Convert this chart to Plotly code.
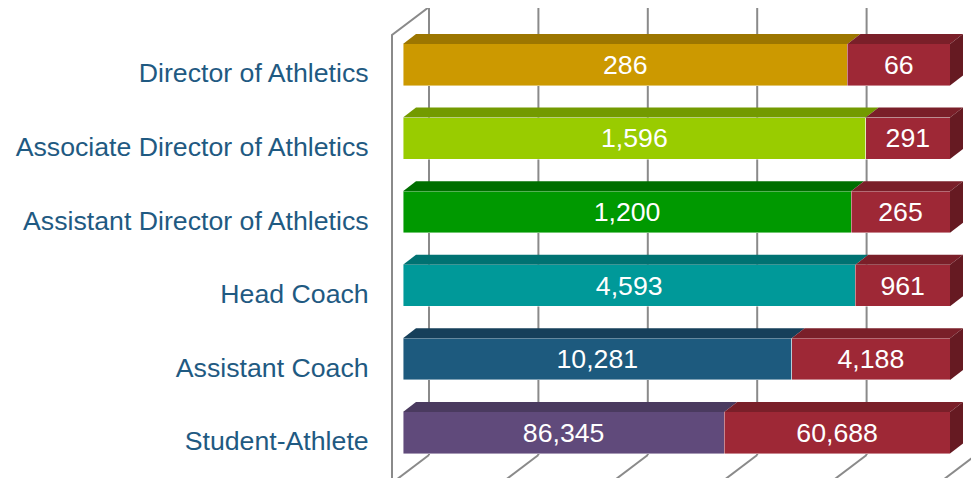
import plotly.graph_objects as go

# data, top to bottom as in the chart
roles = ["Director of Athletics", "Associate Director of Athletics",
         "Assistant Director of Athletics", "Head Coach",
         "Assistant Coach", "Student-Athlete"]
first_vals = [286, 1596, 1200, 4593, 10281, 86345]
second_vals = [66, 291, 265, 961, 4188, 60688]
pct_ticks = [0, 20, 40, 60, 80, 100]

# colours per row: front face / top face
front_cols = ["#CC9900", "#99CC00", "#009900", "#009999", "#1D5A7E", "#604A7B"]
top_cols = ["#9C7600", "#739A00", "#006F00", "#007272", "#163F5A", "#4A3A5F"]
red_front, red_top, red_side = "#9E2836", "#7A1F29", "#661A22"

n = len(roles)
ypos = [n - 1 - i for i in range(n)]

# the page body has an 8px margin, so the figure is a bit smaller
W, H = 971, 470

# geometry of the fake 3d
px_per_pct = 5.47
px_per_row = 73.6
bar_off, bar_w = -0.17, 0.565
dx, dy = 13 / px_per_pct, 10 / px_per_row          # depth of the bars
wall_dx = 26 / px_per_pct                          # back wall behind bar fronts
front_dx = -11 / px_per_pct                        # front edge of floor/left wall
y_r0 = -37 / px_per_row
y_r1 = y_r0 + H / px_per_row
wall_top = y_r0 + 471 / px_per_row
floor_back = y_r0 + 23 / px_per_row
floor_front = y_r0 - 5 / px_per_row
left_top = y_r0 + 443 / px_per_row

font = "Liberation Sans, Arial"
fs = 26.7

fig = go.Figure()
fig.add_trace(go.Bar(
    y=ypos, x=first_vals, orientation="h",
    offset=bar_off, width=bar_w,
    marker=dict(color=front_cols, line=dict(width=0.8, color="rgba(255,255,255,0.55)")),
    text=[f"{v:,}" for v in first_vals], textposition="inside",
    insidetextanchor="middle", textangle=0, constraintext="none",
    textfont=dict(color="white", size=fs, family=font),
    hoverinfo="skip"))
fig.add_trace(go.Bar(
    y=ypos, x=second_vals, orientation="h",
    offset=bar_off, width=bar_w,
    marker=dict(color=red_front, line=dict(width=0.8, color="rgba(255,255,255,0.55)")),
    text=[f"{v:,}" for v in second_vals], textposition="inside",
    insidetextanchor="middle", textangle=0, constraintext="none",
    textfont=dict(color="white", size=fs, family=font),
    hoverinfo="skip"))

shapes = []
gcol = "#8A8A8A"
# back wall gridlines and floor lines
for t in pct_ticks:
    shapes.append(dict(type="line", xref="x", yref="y", layer="below",
                       x0=t + wall_dx, x1=t + wall_dx, y0=floor_back, y1=wall_top,
                       line=dict(color=gcol, width=2)))
    shapes.append(dict(type="line", xref="x", yref="y", layer="below",
                       x0=t + wall_dx, x1=t + front_dx, y0=floor_back, y1=floor_front,
                       line=dict(color=gcol, width=2)))
# left wall
shapes.append(dict(type="path", xref="x", yref="y", layer="below",
                   path=f"M {front_dx},{floor_front} L {front_dx},{left_top} L {wall_dx},{wall_top}",
                   line=dict(color=gcol, width=2)))


def para(x0, x1, yb, col):
    yt = yb + bar_w
    return dict(type="path", xref="x", yref="y", layer="above", fillcolor=col,
                line=dict(width=0),
                path=f"M {x0},{yt} L {x0 + dx},{yt + dy} L {x1 + dx},{yt + dy} L {x1},{yt} Z")


for i in range(n):
    tot = first_vals[i] + second_vals[i]
    split = first_vals[i] / tot * 100
    yb = ypos[i] + bar_off
    yt = yb + bar_w
    shapes.append(para(0, split, yb, top_cols[i]))
    shapes.append(para(split, 100, yb, red_top))
    shapes.append(dict(type="path", xref="x", yref="y", layer="above", fillcolor=red_side,
                       line=dict(width=0),
                       path=f"M 100,{yb} L 100,{yt} L {100 + dx},{yt + dy} L {100 + dx},{yb + dy} Z"))

fig.update_layout(
    width=W, height=H,
    margin=dict(l=372, r=0, t=0, b=0),
    barmode="stack", barnorm="percent",
    plot_bgcolor="white", paper_bgcolor="white",
    showlegend=False,
    shapes=shapes,
    xaxis=dict(range=[-23 / px_per_pct, 576 / px_per_pct], showgrid=False,
               zeroline=False, showticklabels=False, fixedrange=True),
    yaxis=dict(range=[y_r0, y_r1], showgrid=False, zeroline=False,
               tickvals=ypos, ticktext=roles, ticks="outside", ticklen=5,
               tickcolor="rgba(0,0,0,0)",
               tickfont=dict(size=fs, color="#1F5A82", family=font),
               fixedrange=True),
)

fig.write_html("out.html")
